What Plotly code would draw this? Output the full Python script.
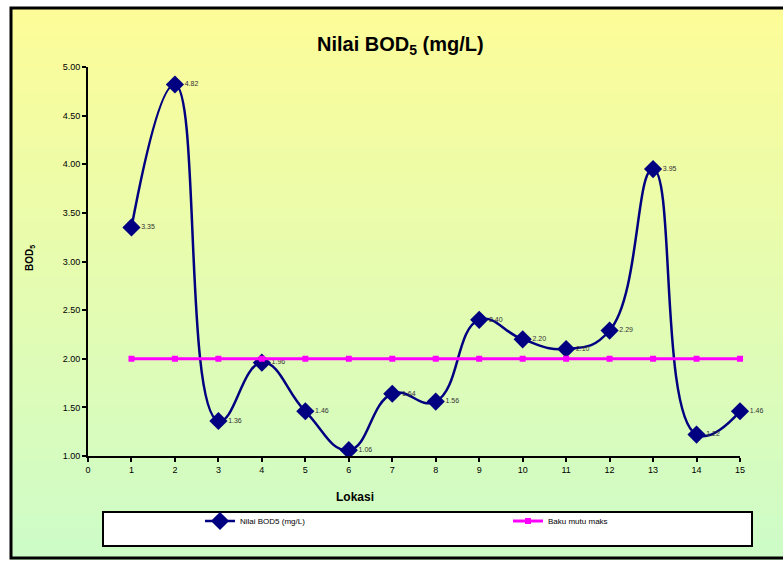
import plotly.graph_objects as go

# ---- data ----
lokasi = list(range(1, 16))
bod5 = [3.35, 4.82, 1.36, 1.96, 1.46, 1.06, 1.64, 1.56, 2.40, 2.20, 2.10, 2.29, 3.95, 1.22, 1.46]
bod5_labels = ["3.35", "4.82", "1.36", "1.96", "1.46", "1.06", "1.64", "1.56",
               "2.40", "2.20", "2.10", "2.29", "3.95", "1.22", "1.46"]
baku_mutu = [2.00] * 15
x_ticks = list(range(0, 16))
y_ticks = [1.0, 1.5, 2.0, 2.5, 3.0, 3.5, 4.0, 4.5, 5.0]

W, H = 783, 561
L, R, T, B = 88, 740, 67, 456  # plot area in pixels


def px(x):
    return (x - L) / (R - L)


def py(y):
    return (B - y) / (B - T)


fig = go.Figure()

fig.add_trace(go.Scatter(
    x=lokasi, y=bod5, mode="lines+markers+text",
    name="Nilai BOD5 (mg/L)", legend="legend", cliponaxis=False,
    line=dict(color="#000080", width=2.5, shape="spline", smoothing=1.3),
    marker=dict(symbol="diamond", size=14, color="#000080"),
    text=bod5_labels, textposition="middle right",
    textfont=dict(size=7, color="#333333", family="Liberation Sans"),
))
fig.add_trace(go.Scatter(
    x=lokasi, y=baku_mutu, mode="lines+markers",
    name="Baku mutu maks", legend="legend2", cliponaxis=False,
    line=dict(color="#FF00FF", width=3),
    marker=dict(symbol="square", size=6, color="#FF00FF"),
))

shapes = []
# gradient background (yellow -> light green)
top_c = (253, 252, 152)
bot_c = (205, 252, 200)
y0px, y1px = 7, 559
n = 90
for i in range(n):
    a = y0px + (y1px - y0px) * i / n
    b = y0px + (y1px - y0px) * (i + 1) / n + 1
    t = (i + 0.5) / n
    c = tuple(int(round(top_c[k] + (bot_c[k] - top_c[k]) * t)) for k in range(3))
    shapes.append(dict(type="rect", xref="paper", yref="paper", layer="below",
                       x0=px(10), x1=px(790), y0=py(b), y1=py(a),
                       fillcolor="rgb(%d,%d,%d)" % c, line=dict(width=0)))
# outer border
shapes.append(dict(type="rect", xref="paper", yref="paper", layer="below",
                   x0=px(11), x1=px(795), y0=py(558), y1=py(8),
                   line=dict(color="black", width=3), fillcolor="rgba(0,0,0,0)"))
# legend box
shapes.append(dict(type="rect", xref="paper", yref="paper", layer="below",
                   x0=px(103), x1=px(752), y0=py(546), y1=py(512),
                   line=dict(color="black", width=2), fillcolor="white"))

annotations = [
    dict(text="<b>Nilai BOD<sub>5</sub> (mg/L)</b>", xref="paper", yref="paper",
         x=px(400), y=py(45), showarrow=False, xanchor="center", yanchor="middle",
         font=dict(size=20, color="black", family="Liberation Sans")),
    dict(text="<b>Lokasi</b>", xref="paper", yref="paper",
         x=px(355), y=py(497), showarrow=False, xanchor="center", yanchor="middle",
         font=dict(size=12, color="black", family="Liberation Sans")),
    dict(text="<b>BOD<sub>5</sub></b>", xref="paper", yref="paper",
         x=px(30), y=py(258), showarrow=False, xanchor="center", yanchor="middle",
         textangle=-90,
         font=dict(size=10, color="black", family="Liberation Sans")),
]

leg_common = dict(orientation="h", xanchor="left", yanchor="middle",
                  bgcolor="rgba(0,0,0,0)", borderwidth=0, itemwidth=30,
                  font=dict(size=8, color="black", family="Liberation Sans"))

fig.update_layout(
    width=W, height=H,
    margin=dict(l=L, r=W - R, t=T, b=H - B, pad=0, autoexpand=False),
    paper_bgcolor="white", plot_bgcolor="rgba(0,0,0,0)",
    showlegend=True,
    legend=dict(x=px(200), y=py(521), **leg_common),
    legend2=dict(x=px(508), y=py(521), **leg_common),
    shapes=shapes, annotations=annotations,
    font=dict(family="Liberation Sans", color="black"),
)
fig.update_xaxes(range=[0, 15], tickvals=x_ticks, ticktext=[str(v) for v in x_ticks],
                 showgrid=False, zeroline=False, showline=True, linecolor="black",
                 linewidth=2, ticks="outside", ticklen=4, tickwidth=2, tickcolor="black",
                 tickfont=dict(size=9), fixedrange=True)
fig.update_yaxes(range=[1, 5], tickvals=y_ticks, tickformat=".2f",
                 showgrid=False, zeroline=False, showline=True, linecolor="black",
                 linewidth=2, ticks="outside", ticklen=4, tickwidth=2, tickcolor="black",
                 tickfont=dict(size=9), fixedrange=True)

fig.write_html("out.html")
